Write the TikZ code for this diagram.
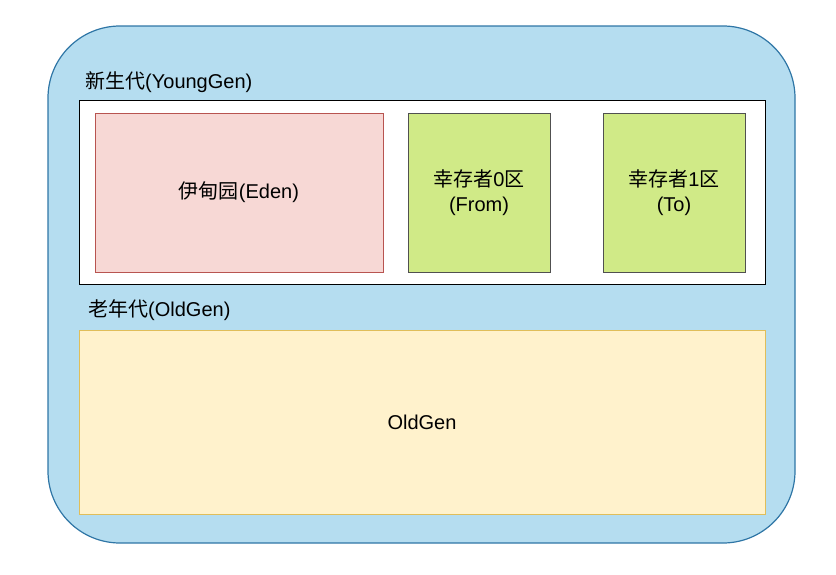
\documentclass[tikz,border=0pt]{standalone}
\usepackage{fontspec}
\setmainfont{Liberation Sans}
\newfontfamily\cjk{Noto Sans CJK SC}
\newcommand{\zh}[1]{{\cjk #1}}
\definecolor{outerfill}{HTML}{B5DDF0}
\definecolor{outerline}{HTML}{2F76A6}
\definecolor{edenfill}{HTML}{F7D8D5}
\definecolor{edenline}{HTML}{B85450}
\definecolor{survfill}{HTML}{D0EA87}
\definecolor{survline}{HTML}{505050}
\definecolor{oldfill}{HTML}{FFF2CC}
\definecolor{oldline}{HTML}{E0BE5A}
\tikzset{
  box/.style={draw, line width=1pt, align=center, inner sep=0pt,
    font=\fontsize{20}{25}\selectfont},
  lbl/.style={anchor=west, inner sep=0pt, font=\fontsize{20}{24}\selectfont}
}
\begin{document}
\begin{tikzpicture}[x=1pt,y=-1pt]
\useasboundingbox (0,0) rectangle (836,574);
\filldraw[fill=outerfill, draw=outerline, line width=1.2pt, rounded corners=72pt]
  (48,26) rectangle (795,543);
\node[lbl] (younglbl) at (85,82) {\zh{新生代}(YoungGen)};
\node[box, fill=white, draw=black, minimum width=686pt, minimum height=184pt] (young) at (422,192) {};
\node[box, fill=edenfill, draw=edenline, minimum width=288pt, minimum height=159pt] (eden) at (239,192.5) {\zh{伊甸园}(Eden)};
\node[box, fill=survfill, draw=survline, minimum width=142pt, minimum height=159pt] (from) at (479,192.5) {\zh{幸存者}0\zh{区}\\(From)};
\node[box, fill=survfill, draw=survline, minimum width=142pt, minimum height=159pt] (to) at (674,192.5) {\zh{幸存者}1\zh{区}\\(To)};
\node[lbl] (oldlbl) at (88,310) {\zh{老年代}(OldGen)};
\node[box, fill=oldfill, draw=oldline, minimum width=686pt, minimum height=184pt] (old) at (422,422.5) {OldGen};
\end{tikzpicture}
\end{document}
